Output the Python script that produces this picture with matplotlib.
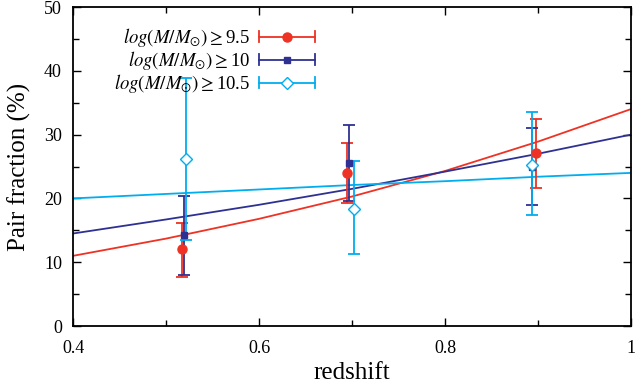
import matplotlib
matplotlib.use("Agg")
import matplotlib.pyplot as plt
from matplotlib.ticker import MultipleLocator
from matplotlib.legend_handler import HandlerBase
from matplotlib.lines import Line2D

plt.rcParams['font.family'] = ['Liberation Serif', 'DejaVu Serif']
plt.rcParams['mathtext.fontset'] = 'stix'

# measured pair fractions (%) for three mass cuts
labels = [r'$log(M/M_{\odot})\geq$9.5',
          r'$log(M/M_{\odot})\geq$10',
          r'$log(M/M_{\odot})\geq$10.5']
colors = ['#ee3224', '#2e3192', '#00aeef']

z_95 = [0.517, 0.695, 0.8975]
f_95 = [12.0, 24.0, 27.1]
hi_95 = [16.2, 28.7, 32.4]
lo_95 = [7.7, 19.3, 21.7]

z_10 = [0.519, 0.697, 0.894]
f_10 = [14.3, 25.6, 25.0]
hi_10 = [20.4, 31.5, 31.1]
lo_10 = [8.0, 19.6, 19.0]

z_105 = [0.5215, 0.702, 0.894]
f_105 = [26.2, 18.4, 25.2]
hi_105 = [38.8, 25.8, 33.5]
lo_105 = [13.5, 11.3, 17.4]

# fitted curves
z_fit = [0.4, 0.5, 0.6, 0.7, 0.8, 0.9, 1.0]
fit_95 = [11.0, 13.7, 16.8, 20.3, 24.3, 28.9, 34.0]
fit_10 = [14.5, 16.7, 19.0, 21.5, 24.2, 27.0, 30.0]
fit_105 = [20.0, 20.7, 21.4, 22.1, 22.7, 23.4, 24.0]


class ErrKey(HandlerBase):
    # gnuplot style key: horizontal bar with end caps and the marker in the middle
    def create_artists(self, legend, orig, xd, yd, w, h, fs, trans):
        c = orig.get_color()
        y = yd + h / 2
        bar = Line2D([xd, xd + w], [y, y], color=c, lw=1.3, transform=trans)
        c1 = Line2D([xd, xd], [y - 4, y + 4], color=c, lw=1.3, transform=trans)
        c2 = Line2D([xd + w, xd + w], [y - 4, y + 4], color=c, lw=1.3, transform=trans)
        mk = Line2D([xd + w / 2], [y], marker=orig.get_marker(), ms=orig.get_markersize(),
                    mfc=orig.get_markerfacecolor(), mec=c, ls='none', transform=trans)
        return [bar, c1, c2, mk]


fig = plt.figure(figsize=(6.35, 3.85), dpi=100)
ax = fig.add_axes([0.115, 0.1532, 0.8787, 0.8286])

ax.plot(z_fit, fit_95, color=colors[0], lw=1.3)
ax.plot(z_fit, fit_10, color=colors[1], lw=1.3)
ax.plot(z_fit, fit_105, color=colors[2], lw=1.3)

sets = [(z_95, f_95, hi_95, lo_95, 'o', colors[0], 6.5),
        (z_10, f_10, hi_10, lo_10, 's', colors[1], 5),
        (z_105, f_105, hi_105, lo_105, 'D', colors[2], 6)]
keys = []
for i, (z, f, hi, lo, m, c, ms) in enumerate(sets):
    err = [[f[k] - lo[k] for k in range(3)], [hi[k] - f[k] for k in range(3)]]
    face = 'white' if m == 'D' else c
    ax.errorbar(z, f, yerr=err, fmt=m, color=c, mfc=face, mec=c, ms=ms,
                elinewidth=1.3, capsize=4, capthick=1.3)
    keys.append(Line2D([], [], color=c, marker=m, ms=ms, mfc=face))

ax.set_xlim(0.4, 1.0)
ax.set_ylim(0, 50)
ax.xaxis.set_minor_locator(MultipleLocator(0.1))
ax.yaxis.set_major_locator(MultipleLocator(10))
ax.yaxis.set_minor_locator(MultipleLocator(5))
ax.set_xticks([0.4, 0.6, 0.8, 1.0])
ax.set_xticklabels(['0.4', '0.6', '0.8', '1'])
ax.tick_params(which='both', direction='in', top=True, right=True,
               labelsize=13, width=1)
ax.tick_params(which='major', length=6, pad=8)
ax.tick_params(axis='x', which='major', pad=10)
ax.tick_params(which='minor', length=4)
for s in ax.spines.values():
    s.set_linewidth(1.3)

ax.set_xlabel('redshift', fontsize=18, labelpad=4)
ax.set_ylabel('Pair fraction (%)', fontsize=18, labelpad=9)

ax.legend(keys, labels, handler_map={Line2D: ErrKey()},
          loc='upper left', bbox_to_anchor=(0.05, 0.98), frameon=False,
          markerfirst=False, fontsize=13.5, handlelength=3.0,
          labelspacing=0.0, handletextpad=0.45, borderpad=0.2)

fig.savefig('out.png', dpi=100)
